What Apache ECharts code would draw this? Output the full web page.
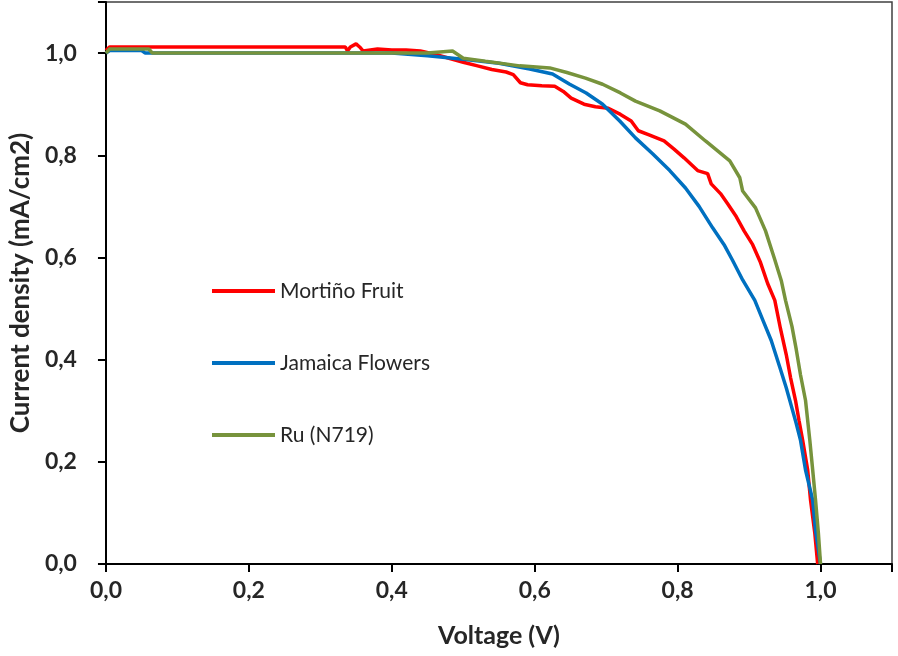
<!DOCTYPE html>
<html>
<head>
<meta charset="utf-8">
<script src="https://cdn.jsdelivr.net/npm/echarts@6/dist/echarts.min.js"></script>
<style>html,body{margin:0;padding:0;background:#fff}#c{width:898px;height:656px}</style>
</head>
<body>
<div id="c"></div>
<script>
const seriesNames = ['Mortiño Fruit', 'Jamaica Flowers', 'Ru (N719)'];
const xTicks = [0, 0.2, 0.4, 0.6, 0.8, 1.0];
const yTicks = [0, 0.2, 0.4, 0.6, 0.8, 1.0];

const mortinoV = [0, 0.005, 0.10, 0.20, 0.30, 0.335, 0.338, 0.342, 0.35, 0.355, 0.36, 0.38, 0.40, 0.42, 0.44, 0.46, 0.48, 0.50, 0.52, 0.54, 0.56, 0.57, 0.58, 0.59, 0.61, 0.628, 0.64, 0.651, 0.669, 0.685, 0.703, 0.72, 0.735, 0.745, 0.76, 0.781, 0.795, 0.809, 0.828, 0.842, 0.847, 0.86, 0.870, 0.882, 0.893, 0.905, 0.916, 0.926, 0.936, 0.944, 0.952, 0.958, 0.965, 0.970, 0.975, 0.982, 0.986, 0.992, 0.996];
const mortinoJ = [1.005, 1.012, 1.012, 1.012, 1.012, 1.012, 1.004, 1.012, 1.018, 1.012, 1.004, 1.008, 1.006, 1.006, 1.004, 0.998, 0.990, 0.982, 0.975, 0.968, 0.963, 0.958, 0.942, 0.938, 0.936, 0.935, 0.925, 0.912, 0.900, 0.895, 0.892, 0.880, 0.867, 0.848, 0.840, 0.828, 0.812, 0.795, 0.770, 0.764, 0.744, 0.725, 0.705, 0.680, 0.652, 0.625, 0.590, 0.549, 0.516, 0.460, 0.410, 0.365, 0.320, 0.280, 0.242, 0.184, 0.125, 0.060, 0.0];

const jamaicaV = [0, 0.005, 0.05, 0.055, 0.10, 0.20, 0.30, 0.40, 0.45, 0.50, 0.55, 0.593, 0.625, 0.649, 0.672, 0.695, 0.719, 0.741, 0.765, 0.789, 0.811, 0.830, 0.849, 0.865, 0.877, 0.891, 0.908, 0.920, 0.931, 0.943, 0.952, 0.959, 0.966, 0.972, 0.979, 0.989, 0.993, 1.0];
const jamaicaJ = [1.0, 1.005, 1.005, 1.0, 1.0, 1.0, 1.0, 1.0, 0.995, 0.988, 0.980, 0.969, 0.959, 0.939, 0.922, 0.900, 0.867, 0.834, 0.803, 0.770, 0.736, 0.700, 0.658, 0.625, 0.594, 0.556, 0.516, 0.475, 0.4375, 0.385, 0.345, 0.310, 0.275, 0.242, 0.184, 0.125, 0.065, 0.0];

const ruV = [0, 0.005, 0.06, 0.065, 0.10, 0.20, 0.30, 0.40, 0.45, 0.485, 0.50, 0.531, 0.579, 0.621, 0.645, 0.671, 0.695, 0.72, 0.741, 0.775, 0.811, 0.839, 0.873, 0.887, 0.891, 0.909, 0.923, 0.935, 0.945, 0.951, 0.960, 0.966, 0.972, 0.979, 0.985, 0.989, 0.993, 0.997, 1.0];
const ruJ = [1.0, 1.008, 1.008, 1.0, 1.0, 1.0, 1.0, 1.0, 1.0, 1.004, 0.990, 0.984, 0.975, 0.971, 0.962, 0.951, 0.939, 0.922, 0.906, 0.887, 0.861, 0.828, 0.789, 0.756, 0.730, 0.697, 0.652, 0.600, 0.555, 0.516, 0.465, 0.420, 0.370, 0.320, 0.242, 0.184, 0.125, 0.060, 0.0];

const colors = ['#FF0000', '#0070C0', '#77933C'];
const zip = (a, b) => a.map((v, i) => [v, b[i]]);
const fmt = v => v.toFixed(1).replace('.', ',');
const font = 'Lato, "Open Sans", sans-serif';

const chart = echarts.init(document.getElementById('c'));
chart.setOption({
  animation: false,
  grid: { left: 102, right: 6, top: 2, bottom: 92, show: true, borderColor: '#404040', borderWidth: 1.5 },
  legend: {
    orient: 'vertical', left: 207, top: 274, itemWidth: 63, itemHeight: 4, itemGap: 48, icon: 'rect',
    data: seriesNames,
    textStyle: { fontFamily: font, fontSize: 21, color: '#262626', lineHeight: 24 }
  },
  xAxis: {
    type: 'value', min: 0, max: 1.1, interval: 0.2,
    name: 'Voltage (V)', nameLocation: 'middle', nameGap: 59,
    nameTextStyle: { fontFamily: font, fontSize: 25, fontWeight: 'bold', color: '#262626' },
    axisLine: { lineStyle: { color: '#000', width: 2 } },
    axisTick: { show: true, length: 8, lineStyle: { color: '#000', width: 2 } },
    axisLabel: { fontFamily: font, fontSize: 23, fontWeight: 'bold', color: '#262626', margin: 15,
      formatter: v => xTicks.some(t => Math.abs(t - v) < 1e-9) ? fmt(v) : '' },
    splitLine: { show: false }
  },
  yAxis: {
    type: 'value', min: 0, max: 1.1, interval: 0.2,
    name: 'Current density (mA/cm2)', nameLocation: 'middle', nameGap: 70,
    nameTextStyle: { fontFamily: font, fontSize: 26, fontWeight: 'bold', color: '#262626' },
    axisLine: { lineStyle: { color: '#000', width: 2 } },
    axisTick: { show: true, length: 8, lineStyle: { color: '#000', width: 2 } },
    axisLabel: { fontFamily: font, fontSize: 23, fontWeight: 'bold', color: '#262626', margin: 29,
      formatter: v => yTicks.some(t => Math.abs(t - v) < 1e-9) ? fmt(v) : '' },
    splitLine: { show: false }
  },
  series: [
    { name: seriesNames[0], type: 'line', data: zip(mortinoV, mortinoJ), showSymbol: false, color: colors[0], lineStyle: { width: 3.5, color: colors[0] } },
    { name: seriesNames[1], type: 'line', data: zip(jamaicaV, jamaicaJ), showSymbol: false, color: colors[1], lineStyle: { width: 3.5, color: colors[1] } },
    { name: seriesNames[2], type: 'line', data: zip(ruV, ruJ), showSymbol: false, color: colors[2], lineStyle: { width: 3.5, color: colors[2] } }
  ]
});
</script>
</body>
</html>
